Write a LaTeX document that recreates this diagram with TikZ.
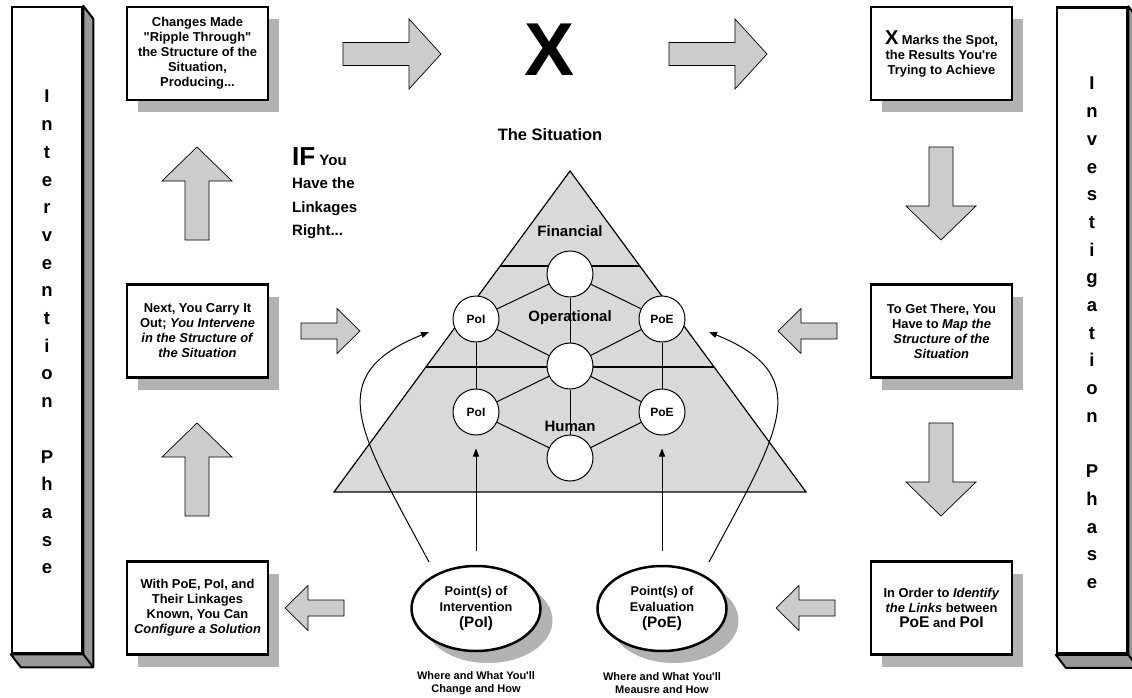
\documentclass[tikz,border=0pt]{standalone}
\usepackage{fontspec}
\setmainfont{Liberation Sans}
\usetikzlibrary{shapes.geometric,shadows,arrows.meta}
\newcommand{\blockarrow}[7]{%
  \path[barrow, shift={(#1,#2)}, rotate=#3] (0,-#7) -- ({#4-#5},-#7) -- ({#4-#5},-#6) -- (#4,0) -- ({#4-#5},#6) -- ({#4-#5},#7) -- (0,#7) -- cycle;}
\begin{document}
\begin{tikzpicture}[x=1pt,y=-1pt,
  txtbox/.style={draw, line width=2.5pt, fill=white, minimum width=141pt, minimum height=93pt, inner sep=0pt, align=center,
    font=\bfseries\fontsize{12.9}{15}\selectfont,
    drop shadow={shadow xshift=11pt,shadow yshift=-12pt,fill=black!30,opacity=1}},
  pillar/.style={draw, line width=2.5pt, fill=white, minimum width=70pt, minimum height=646pt, inner sep=0pt},
  pillarside/.style={fill=black!40, draw, line width=2pt, line join=round},
  pillartext/.style={align=center, inner sep=0pt, anchor=north, font=\bfseries\fontsize{18.5}{27.7}\selectfont},
  barrow/.style={draw, line width=0.7pt, fill=black!20, line join=miter},
  knot/.style={circle, draw, fill=white, line width=1pt, minimum size=46pt, inner sep=0pt, font=\bfseries\fontsize{12}{14}\selectfont},
  lbl/.style={inner sep=0pt, font=\bfseries\fontsize{15}{17}\selectfont},
  oval/.style={ellipse, draw, line width=2.5pt, fill=white, minimum width=129pt, minimum height=85pt, inner sep=0pt, align=center,
    font=\bfseries\fontsize{12.7}{16}\selectfont,
    drop shadow={shadow xshift=12pt,shadow yshift=-12pt,fill=black!30,opacity=1}},
  capt/.style={align=center, inner sep=0pt, font=\bfseries\fontsize{11}{12.7}\selectfont},
  link/.style={line width=1pt},
  flow/.style={line width=1pt, -{Triangle[length=8pt,width=6pt]}}]
\clip (0,0) rectangle (1132,698);
\fill[white] (0,0) rectangle (1132,698);
% pillars
\node[pillar] (lp) at (47,330) {};
\path[pillarside] (lp.north east) -- ++(10,13) -- ([shift={(10,13)}]lp.south east) -- ([shift={(10,13)}]lp.south west) -- (lp.south west) -- (lp.south east) -- cycle;
\draw[line width=2pt] (lp.south east) -- ++(10,13);
\node[pillartext] (lpt) at (47,90) {I\\n\\t\\e\\r\\v\\e\\n\\t\\i\\o\\n\\[27.7pt]P\\h\\a\\s\\e};
\node[pillar] (rp) at (1092,330.5) {};
\path[pillarside] (rp.north east) -- ++(10,13) -- ([shift={(10,13)}]rp.south east) -- ([shift={(10,13)}]rp.south west) -- (rp.south west) -- (rp.south east) -- cycle;
\draw[line width=2pt] (rp.south east) -- ++(10,13);
\node[pillartext] (rpt) at (1092,77) {I\\n\\v\\e\\s\\t\\i\\g\\a\\t\\i\\o\\n\\[27.7pt]P\\h\\a\\s\\e};
% text boxes
\node[txtbox] (b1) at (197.5,53.5) {Changes Made\\\textquotedbl Ripple Through\textquotedbl\\the Structure of the\\Situation,\\Producing...};
\node[txtbox] (b2) at (941.5,53.5) {{\fontsize{20}{15}\selectfont X} Marks the Spot,\\the Results You\textquotesingle re\\Trying to Achieve};
\node[txtbox] (b3) at (941.5,331) {To Get There, You\\Have to \textit{Map the}\\\textit{Structure of the}\\\textit{Situation}};
\node[txtbox] (b4) at (941.5,608) {In Order to \textit{Identify}\\\textit{the Links} between\\{\fontsize{15.5}{15}\selectfont PoE} and {\fontsize{15.5}{15}\selectfont PoI}};
\node[txtbox] (b5) at (197.5,608) {With PoE, PoI, and\\Their Linkages\\Known, You Can\\\textit{Configure a Solution}};
\node[txtbox] (b6) at (197.5,331) {Next, You Carry It\\Out; \textit{You Intervene}\\\textit{in the Structure of}\\\textit{the Situation}};
% block arrows
\blockarrow{343}{54}{0}{98}{32}{35}{11.5}
\blockarrow{669}{54}{0}{98}{32}{35}{11.5}
\blockarrow{941}{147}{-90}{93}{34}{35}{12}
\blockarrow{941}{423}{-90}{93}{34}{35}{12}
\blockarrow{197}{240}{90}{93}{34}{35}{12}
\blockarrow{197}{516}{90}{93}{34}{35}{12}
\blockarrow{301}{331}{0}{59}{23}{22.5}{8}
\blockarrow{837}{331}{180}{59}{23}{22.5}{8}
\blockarrow{344}{608}{180}{59}{23}{22.5}{8}
\blockarrow{835}{608}{180}{59}{23}{22.5}{8}
% titles
\node[inner sep=0pt, font=\bfseries\fontsize{75}{75}\selectfont] (xx) at (550,50) {X};
\node[inner sep=0pt, font=\bfseries\fontsize{16.5}{18}\selectfont] (sit) at (550,135) {The Situation};
\node[anchor=north west, align=left, inner sep=0pt, font=\bfseries\fontsize{15}{23.5}\selectfont] (ift) at (292,147) {{\fontsize{26}{23.5}\selectfont IF} You\\Have the\\Linkages\\Right...};
% triangle
\filldraw[fill=black!15, line width=1.2pt, line join=miter] (570,171) -- (806,492) -- (334,492) -- cycle;
\draw[line width=1.2pt] (500.2,266) -- (639.8,266);
\draw[line width=1.2pt] (425.9,367) -- (714.1,367);
% circles
\node[knot] (ct) at (570,274) {};
\node[knot] (cm) at (570,366) {};
\node[knot] (cb) at (570,458) {};
\node[knot] (i1) at (476,319) {PoI};
\node[knot] (e1) at (662,319) {PoE};
\node[knot] (i2) at (476,412) {PoI};
\node[knot] (e2) at (662,412) {PoE};
\draw[link] (ct) -- (i1);
\draw[link] (ct) -- (e1);
\draw[link] (ct) -- (cm);
\draw[link] (cm) -- (i1);
\draw[link] (cm) -- (e1);
\draw[link] (cm) -- (i2);
\draw[link] (cm) -- (e2);
\draw[link] (cm) -- (cb);
\draw[link] (cb) -- (i2);
\draw[link] (cb) -- (e2);
\draw[link] (i1) -- (i2);
\draw[link] (e1) -- (e2);
\node[lbl] (fin) at (570,231) {Financial};
\node[lbl] (ope) at (570,318) {Operational};
\node[lbl] (hum) at (570,426) {Human};
% ellipses
\node[oval] (poi) at (476,608.5) {Point(s) of\\Intervention\\{\fontsize{15.2}{16}\selectfont (PoI)}};
\node[oval] (poe) at (662,608.5) {Point(s) of\\Evaluation\\{\fontsize{15.2}{16}\selectfont (PoE)}};
\node[capt] (wi) at (476,683) {Where and What You\textquotesingle ll\\Change and How};
\node[capt] (we) at (662,683) {Where and What You\textquotesingle ll\\Meausre and How};
% arrows
\draw[flow] ([yshift=14pt]poi.north) -- ([yshift=-13pt]i2.south);
\draw[flow] ([yshift=14pt]poe.north) -- ([yshift=-13pt]e2.south);
\coordinate (li) at (429,562);
\coordinate (lt) at (429,332);
\coordinate (ri) at (709,562);
\coordinate (rt) at (709,332);
\draw[flow] (li) .. controls (360,433) and (320,376) .. (lt);
\draw[flow] (ri) .. controls (778,433) and (818,376) .. (rt);
\end{tikzpicture}
\end{document}
